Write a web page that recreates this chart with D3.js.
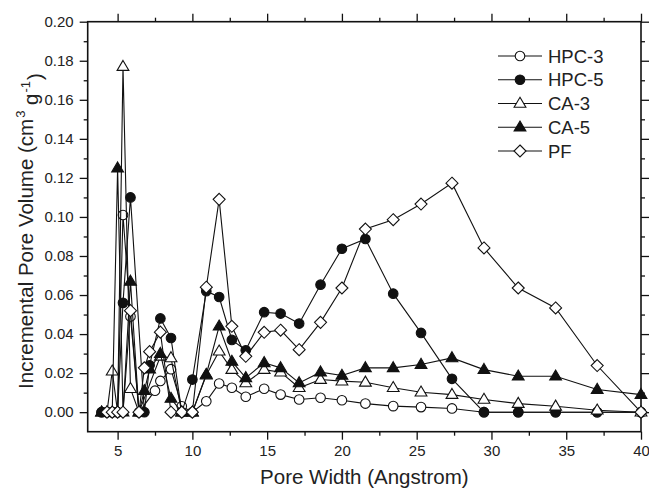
<!DOCTYPE html>
<html><head><meta charset="utf-8">
<script src="https://cdn.jsdelivr.net/npm/d3@7"></script>
<style>
html,body{margin:0;padding:0;background:#fff;}
svg{display:block;font-family:"Liberation Sans",Arial,sans-serif;}
</style></head>
<body><svg id="chart" width="649" height="490"></svg>
<script>
// ---- data ----
const poreWidth = [3.93, 4.29, 4.64, 5.00, 5.36, 5.86, 6.43, 6.79, 7.14, 7.50, 7.86, 8.57, 9.29, 10.0, 10.93, 11.79, 12.64, 13.57, 14.8, 15.9, 17.14, 18.57, 20.0, 21.57, 23.43, 25.29, 27.36, 29.5, 31.79, 34.29, 37.07, 40.0];
const hpc3 = [0, 0, 0, 0, 0.101, 0.049, 0, null, null, 0.011, 0.016, 0.022, 0.003, 0, 0.0056, 0.0147, 0.0125, 0.0079, 0.012, 0.009, 0.0065, 0.0074, 0.0061, 0.0044, 0.0031, 0.0026, 0.0019, 0, 0, 0, 0, 0];
const hpc5 = [0, 0, 0, 0, 0.056, 0.110, null, 0, 0.024, null, 0.048, 0.038, 0, 0.0167, 0.062, 0.059, 0.037, 0.0317, 0.0512, 0.0505, 0.0454, 0.0653, 0.0837, 0.0887, 0.0607, 0.0406, 0.0171, 0, 0, 0, 0, 0];
const ca3 = [0, 0, 0.021, 0, 0.177, 0.012, 0, null, null, null, 0.0286, 0.0278, 0, 0, 0.019, 0.0312, 0.0218, 0.015, 0.0218, 0.0205, 0.0125, 0.0167, 0.0159, 0.0153, 0.0125, 0.0102, 0.009, 0.0065, 0.0044, 0.003, 0.001, 0];
const ca5 = [0, 0, 0, 0.125, 0, 0.067, 0, 0.011, 0.022, null, 0.030, 0.007, 0, 0, 0.0193, 0.044, 0.026, 0.0176, 0.0253, 0.0227, 0.015, 0.0205, 0.0188, 0.0227, 0.0227, 0.0244, 0.0278, 0.0218, 0.0184, 0.0184, 0.0116, 0.009];
const pf = [null, 0, 0, 0, 0, 0.052, 0, 0.0227, 0.031, null, 0.041, 0, 0, 0, 0.064, 0.109, 0.044, 0.0286, 0.0409, 0.042, 0.032, 0.046, 0.0636, 0.0938, 0.0986, 0.1066, 0.1173, 0.0841, 0.0636, 0.0534, 0.0239, 0];
const seriesNames = ["HPC-3", "HPC-5", "CA-3", "CA-5", "PF"];
const seriesValues = [hpc3, hpc5, ca3, ca5, pf];
const seriesMarkers = ["circle-open", "circle-filled", "triangle-open", "triangle-filled", "diamond-open"];
const xTicks = [5, 10, 15, 20, 25, 30, 35, 40];
const xMinorTicks = [7.5, 12.5, 17.5, 22.5, 27.5, 32.5, 37.5];
const yTicks = [0.00, 0.02, 0.04, 0.06, 0.08, 0.10, 0.12, 0.14, 0.16, 0.18, 0.20];
const yMinorTicks = [0.01, 0.03, 0.05, 0.07, 0.09, 0.11, 0.13, 0.15, 0.17, 0.19];
const xTitle = "Pore Width (Angstrom)";

// ---- layout ----
const L = 87.7, R = 641, T = 21.7, B = 431.7;
const svg = d3.select("#chart");
const x = d3.scaleLinear().domain([3, 40]).range([L, R]);
const y = d3.scaleLinear().domain([-0.01, 0.20]).range([B, T]);
const ink = "#111", textCol = "#222";

function markerPath(type) {
  if (type.startsWith("circle")) {
    const r = 4.8;
    return `M${-r},0A${r},${r} 0 1,0 ${r},0A${r},${r} 0 1,0 ${-r},0Z`;
  }
  if (type.startsWith("triangle")) return "M0,-6.2L5.9,3.8L-5.9,3.8Z";
  return "M0,-6L6,0L0,6L-6,0Z";
}
function markerFill(type) { return type.endsWith("filled") ? ink : "#fff"; }

// axes
const g = svg.append("g");
const xAxisB = d3.axisBottom(x).tickValues(xTicks).tickSize(8).tickPadding(6).tickFormat(d3.format("d"));
const xAxisBm = d3.axisBottom(x).tickValues(xMinorTicks).tickSize(4).tickFormat("");
const xAxisT = d3.axisTop(x).tickValues(xTicks).tickSize(8).tickFormat("");
const xAxisTm = d3.axisTop(x).tickValues(xMinorTicks).tickSize(4).tickFormat("");
const yAxisL = d3.axisLeft(y).tickValues(yTicks).tickSize(8).tickPadding(6).tickFormat(d3.format(".2f"));
const yAxisLm = d3.axisLeft(y).tickValues(yMinorTicks).tickSize(4).tickFormat("");
const yAxisR = d3.axisRight(y).tickValues(yTicks).tickSize(8).tickFormat("");
const yAxisRm = d3.axisRight(y).tickValues(yMinorTicks).tickSize(4).tickFormat("");

function styleAxis(sel) {
  sel.select(".domain").remove();
  sel.selectAll("line").attr("stroke", ink).attr("stroke-width", 1.3);
  sel.selectAll("text").attr("fill", textCol).style("font-size", "15px").style("font-family", "Liberation Sans, Arial, sans-serif");
}
g.append("g").attr("transform", `translate(0,${B})`).call(xAxisB).call(styleAxis);
g.append("g").attr("transform", `translate(0,${B})`).call(xAxisBm).call(styleAxis);
g.append("g").attr("transform", `translate(0,${T})`).call(xAxisT).call(styleAxis);
g.append("g").attr("transform", `translate(0,${T})`).call(xAxisTm).call(styleAxis);
g.append("g").attr("transform", `translate(${L},0)`).call(yAxisL).call(styleAxis);
g.append("g").attr("transform", `translate(${L},0)`).call(yAxisLm).call(styleAxis);
g.append("g").attr("transform", `translate(${R},0)`).call(yAxisR).call(styleAxis);
g.append("g").attr("transform", `translate(${R},0)`).call(yAxisRm).call(styleAxis);

// frame
g.append("rect").attr("x", L).attr("y", T).attr("width", R - L).attr("height", B - T)
  .attr("fill", "none").attr("stroke", ink).attr("stroke-width", 1.6);

// series
const line = d3.line().x(d => x(d[0])).y(d => y(d[1]));
seriesValues.forEach((vals, i) => {
  const pts = poreWidth.map((w, j) => [w, vals[j]]).filter(d => d[1] !== null);
  const sg = svg.append("g");
  sg.append("path").attr("d", line(pts)).attr("fill", "none").attr("stroke", ink).attr("stroke-width", 1.1);
  sg.selectAll("path.m").data(pts).enter().append("path").attr("class", "m")
    .attr("transform", d => `translate(${x(d[0])},${y(d[1])})`)
    .attr("d", markerPath(seriesMarkers[i]))
    .attr("fill", markerFill(seriesMarkers[i])).attr("stroke", ink).attr("stroke-width", 1.1);
});

// legend
const legend = svg.append("g");
seriesNames.forEach((name, i) => {
  const ly = 56 + i * 23.75;
  legend.append("line").attr("x1", 498).attr("x2", 542).attr("y1", ly).attr("y2", ly).attr("stroke", ink).attr("stroke-width", 1.1);
  legend.append("path").attr("transform", `translate(520,${ly})`).attr("d", markerPath(seriesMarkers[i]))
    .attr("fill", markerFill(seriesMarkers[i])).attr("stroke", ink).attr("stroke-width", 1.1);
  legend.append("text").attr("x", 548).attr("y", ly).attr("dy", "0.36em").attr("fill", textCol)
    .style("font-size", "18.5px").text(name);
});

// axis titles
svg.append("text").attr("x", (L + R) / 2).attr("y", 484).attr("text-anchor", "middle")
  .attr("fill", textCol).style("font-size", "20.5px").text(xTitle);
const yt = svg.append("text").attr("transform", "translate(33,231) rotate(-90)").attr("text-anchor", "middle")
  .attr("fill", textCol).style("font-size", "20.5px");
yt.append("tspan").text("Incremental Pore Volume (cm");
yt.append("tspan").attr("dy", "-0.6em").attr("dx", "1").style("font-size", "13px").text("3");
yt.append("tspan").attr("dy", "0.6em").text(" g");
yt.append("tspan").attr("dy", "-0.6em").attr("dx", "1").style("font-size", "13px").text("-1");
yt.append("tspan").attr("dy", "0.6em").attr("dx", "1").text(")");
</script></body></html>
